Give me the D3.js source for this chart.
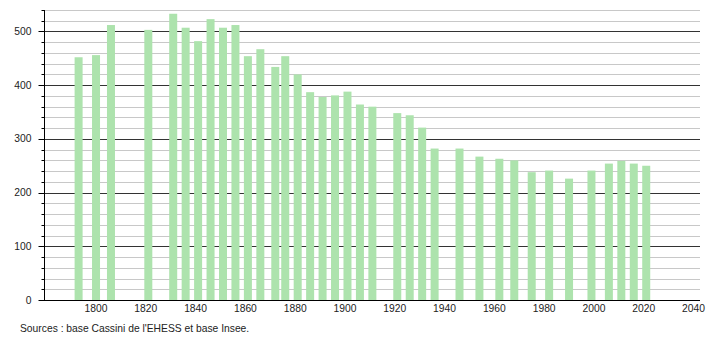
<!DOCTYPE html>
<html>
<head>
<meta charset="utf-8">
<script src="https://cdn.jsdelivr.net/npm/d3@7"></script>
<style>
  body { margin: 0; background: #fff; }
  text { font-family: "Liberation Sans", Arial, sans-serif; fill: #222; }
</style>
</head>
<body>
<div id="chart"></div>
<script>
const years = [1793, 1800, 1806, 1821, 1831, 1836, 1841, 1846, 1851, 1856,
  1861, 1866, 1872, 1876, 1881, 1886, 1891, 1896, 1901, 1906,
  1911, 1921, 1926, 1931, 1936, 1946, 1954, 1962, 1968, 1975,
  1982, 1990, 1999, 2006, 2011, 2016, 2021];
const population = [452, 456, 512, 503, 533, 507, 482, 523, 507, 512,
  454, 467, 434, 454, 420, 387, 378, 381, 388, 364,
  360, 348, 344, 321, 282, 282, 267, 263, 260, 238,
  241, 226, 241, 254, 259, 254, 250];
const xTicks = [1800, 1820, 1840, 1860, 1880, 1900, 1920, 1940, 1960, 1980, 2000, 2020, 2040];
const yTicks = [0, 100, 200, 300, 400, 500];
const source = "Sources : base Cassini de l'EHESS et base Insee.";

const width = 710, height = 340;
const m = { left: 44, right: 700, top: 10, bottom: 300 };
const fs = 10.3;

const svg = d3.select("#chart").append("svg")
  .attr("width", width)
  .attr("height", height);

const x = d3.scaleLinear().domain([1779.1, 2042.6]).range([m.left, m.right]);
const y = d3.scaleLinear().domain([0, 540]).range([m.bottom, m.top]);
const py = v => Math.round(y(v)) + 0.5;

// grid: light every 20, dark every 100
const minor = d3.range(20, 541, 20).filter(v => v % 100 !== 0);
svg.append("g").selectAll("line")
  .data(minor)
  .join("line")
  .attr("x1", m.left).attr("x2", m.right)
  .attr("y1", py).attr("y2", py)
  .attr("stroke", "#c8c8c8");

svg.append("g").selectAll("line")
  .data(yTicks.filter(v => v > 0))
  .join("line")
  .attr("x1", m.left).attr("x2", m.right)
  .attr("y1", py).attr("y2", py)
  .attr("stroke", "#333");

// bars
const barW = 8;
svg.append("g").selectAll("rect")
  .data(years.map((yr, i) => ({ yr, v: population[i] })))
  .join("rect")
  .attr("x", d => x(d.yr) - barW / 2)
  .attr("y", d => y(d.v))
  .attr("width", barW)
  .attr("height", d => y(0) - y(d.v))
  .attr("fill", "#ade3ad");

// y axis
const yAxis = svg.append("g").attr("transform", `translate(${m.left + 0.5},0)`);
yAxis.append("line")
  .attr("y1", m.top).attr("y2", m.bottom + 0.5)
  .attr("stroke", "#000");
yAxis.selectAll(".minor")
  .data(minor)
  .join("line")
  .attr("class", "minor")
  .attr("x1", -3).attr("x2", 0)
  .attr("y1", py).attr("y2", py)
  .attr("stroke", "#000");
yAxis.selectAll(".major")
  .data(yTicks)
  .join("line")
  .attr("class", "major")
  .attr("x1", -6).attr("x2", 0)
  .attr("y1", py).attr("y2", py)
  .attr("stroke", "#000");
yAxis.selectAll("text")
  .data(yTicks)
  .join("text")
  .attr("x", -13)
  .attr("y", d => y(d))
  .attr("dy", "0.35em")
  .attr("text-anchor", "end")
  .attr("font-size", fs)
  .text(d => d);

// x axis
svg.append("line")
  .attr("x1", m.left - 4).attr("x2", m.right)
  .attr("y1", m.bottom + 0.5).attr("y2", m.bottom + 0.5)
  .attr("stroke", "#000");
svg.append("g").selectAll("text")
  .data(xTicks)
  .join("text")
  .attr("x", d => x(d))
  .attr("y", 312)
  .attr("text-anchor", "middle")
  .attr("font-size", fs)
  .text(d => d);

svg.append("text")
  .attr("x", 20)
  .attr("y", 332)
  .attr("font-size", fs)
  .text(source);
</script>
</body>
</html>
